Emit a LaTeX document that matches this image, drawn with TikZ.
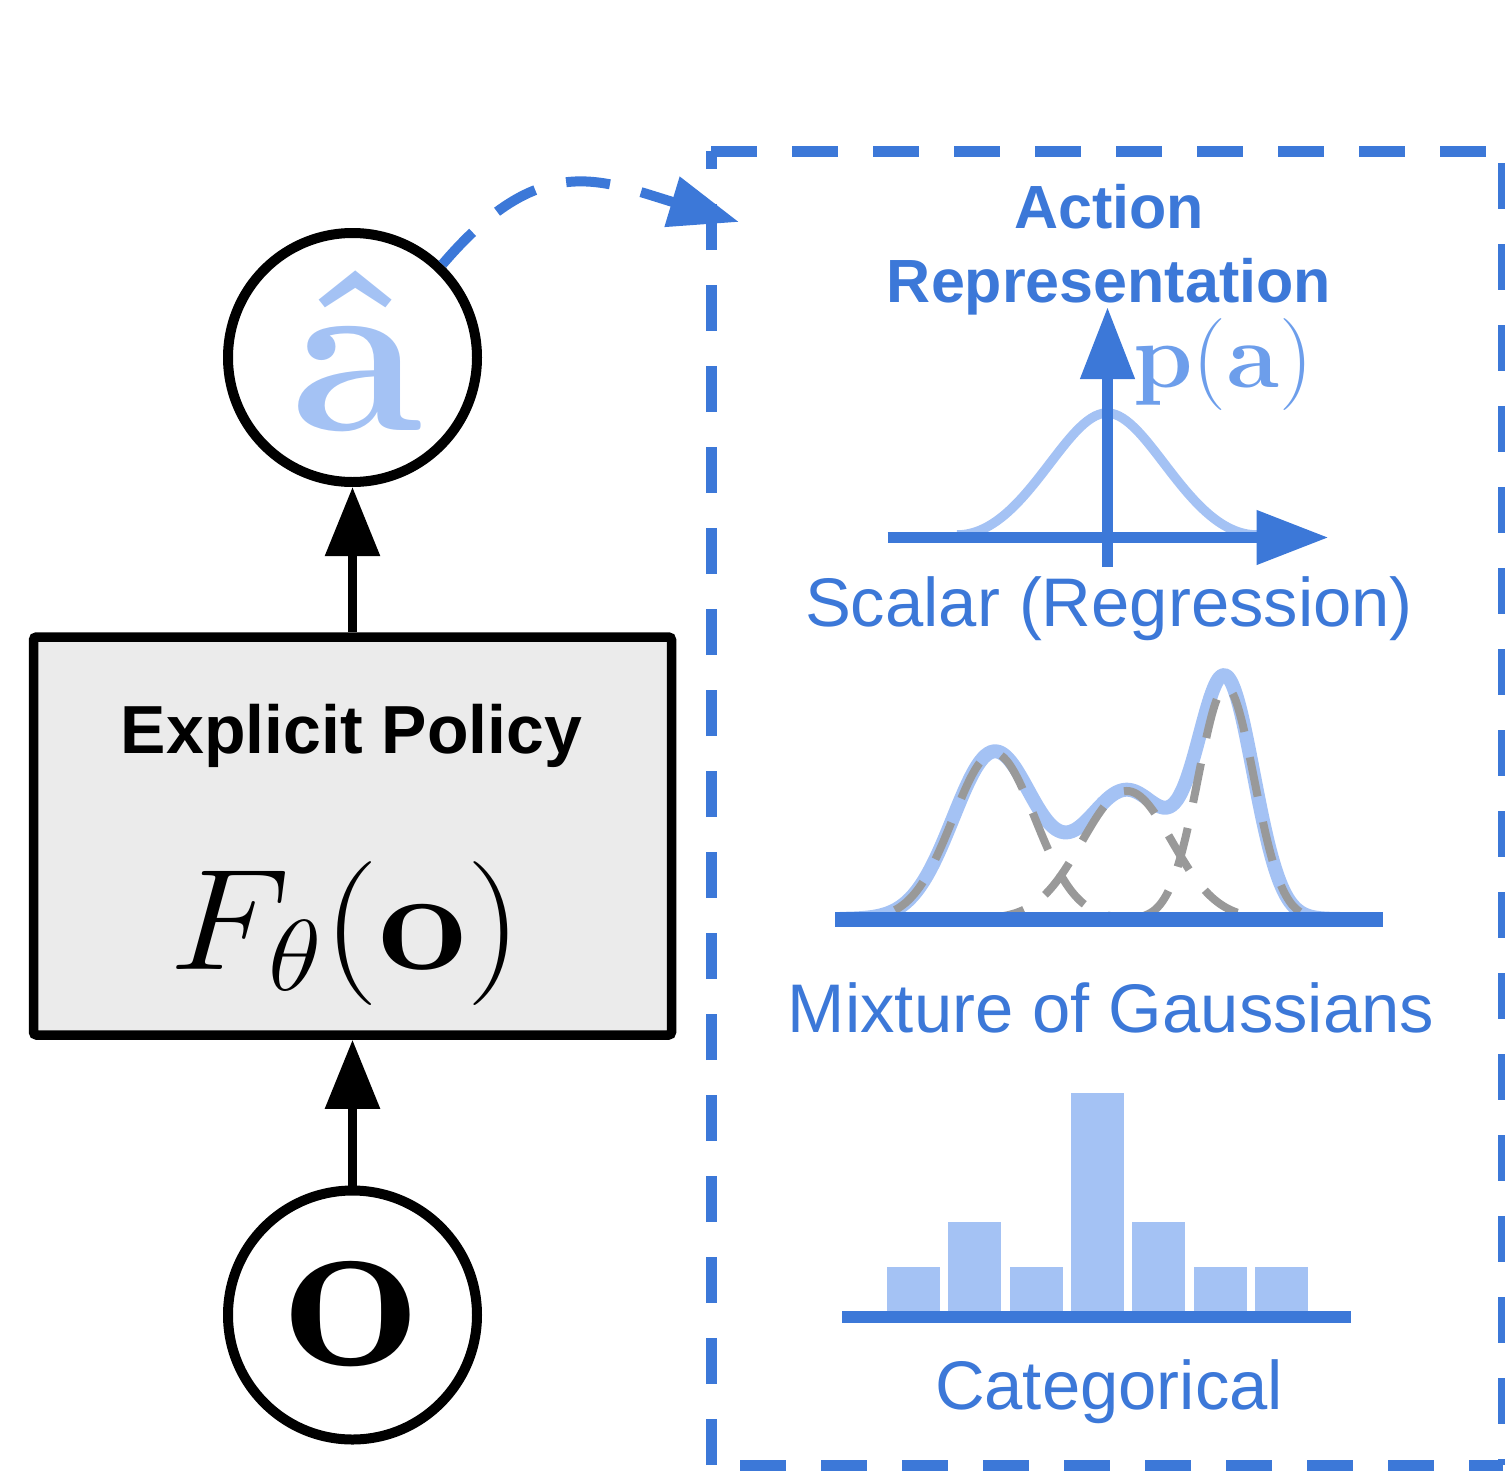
\RequirePackage{fix-cm}
\documentclass[tikz,border=0pt]{standalone}
\usepackage[no-math]{fontspec}
\newfontfamily\lsans{Liberation Sans}
\usetikzlibrary{arrows.meta}
\definecolor{gblue}{HTML}{3C78D8}
\definecolor{lblue}{HTML}{A4C2F4}
\definecolor{mblue}{HTML}{6D9EEB}
\definecolor{boxgray}{HTML}{EBEBEB}
\definecolor{dgray}{HTML}{999999}
\begin{document}
\begin{tikzpicture}[x=0.5pt,y=-0.5pt,
  circ/.style={circle, draw=black, line width=5pt, minimum size=124.5pt, inner sep=0pt},
  policy/.style={rectangle, draw=black, line width=4.75pt, fill=boxgray, minimum width=319pt, minimum height=199pt, rounded corners=1.5pt, inner sep=0pt},
  blk/.style={line width=4.5pt, -{Triangle[length=34.5pt,width=26.5pt]}},
  bluearr/.style={gblue, line width=5.5pt, -{Triangle[length=36pt,width=26pt]}},
  lbl/.style={inner sep=0pt, anchor=base},
  edgedash/.style={gblue, line width=5.5pt, dash pattern=on 23pt off 17.5pt},
  comp/.style={dgray, line width=4pt, dash pattern=on 20pt off 13pt},
  bar/.style={fill=lblue},
]
\useasboundingbox (0,0) rectangle (1505,1472);

% left column
\node[circ] (ahat) at (352.5,357.5) {};
\node[lbl, text=lblue, font=\fontsize{115}{120}\selectfont] (ahattxt) at (356,430) {\scalebox{1.04}[1]{$\mathbf{\hat{a}}$}};
\node[policy] (pol) at (352.5,836) {};
\node[lbl, font=\lsans\bfseries\fontsize{34}{40}\selectfont] (poltitle) at (351.5,753) {Explicit Policy};
\node[lbl, font=\fontsize{72}{80}\selectfont] (polf) at (346,969) {\scalebox{1.09}[1]{$F_\theta(\mathbf{o})$}};
\node[circ] (obs) at (352.5,1315) {};
\node[lbl, font=\fontsize{115}{120}\selectfont] (obstxt) at (351,1365) {\scalebox{1.03}[1]{$\mathbf{o}$}};
\draw[blk] (pol.north) -- (ahat.south);
\draw[blk] (obs.north) -- (pol.south);

% dashed connector to representation box
\coordinate (arrtip) at (739,222);
\draw[gblue, line width=5pt, dash pattern=on 22pt off 16pt, -{Triangle[length=35pt,width=25pt]}]
  (ahat.46) .. controls (540,150) and (600,180) .. (arrtip);

% dashed representation box
\draw[edgedash] (711,151) -- (1503,151);
\draw[edgedash] (1503,163) -- (1503,1465);
\draw[edgedash] (711,1465) -- (711,151);
\draw[edgedash] (740,1465) -- (1503,1465);

% title
\node[lbl, text=gblue, font=\lsans\bfseries\fontsize{30.5}{36}\selectfont] (act) at (1109,228) {Action};
\node[lbl, text=gblue, font=\lsans\bfseries\fontsize{30.5}{36}\selectfont] (rep) at (1109,302) {Representation};

% scalar
\draw[lblue, line width=4.75pt] (957,535) .. controls (1025,535) and (1065,413) .. (1107,413)
  .. controls (1149,413) and (1189,535) .. (1257,535);
\coordinate (sx0) at (887.5,537.5);
\coordinate (sx1) at (1328.5,537.5);
\coordinate (sy0) at (1107.5,567);
\coordinate (sy1) at (1107.5,307);
\draw[bluearr] (sx0) -- (sx1);
\draw[bluearr] (sy0) -- (sy1);
\node[lbl, text=mblue, font=\fontsize{46}{50}\selectfont] (pa) at (1223,387) {\scalebox{1.04}[1]{$\mathbf{p}(\mathbf{a})$}};
\node[lbl, text=gblue, font=\lsans\fontsize{34.4}{40}\selectfont] (scal) at (1109,626) {Scalar (Regression)};

% mixture of gaussians
\draw[lblue, line width=7pt, line join=round] plot[domain=840:1340, samples=200, smooth]
  (\x, {919 - 166*exp(-0.5*((\x-994)/41)*((\x-994)/41)) - 128*exp(-0.5*((\x-1127)/45)*((\x-1127)/45)) - 232*exp(-0.5*((\x-1226)/28)*((\x-1226)/28))});
\draw[comp] plot[domain=895:1110, samples=80, smooth]
  (\x, {919 - 166*exp(-0.5*((\x-994)/41)*((\x-994)/41))});
\draw[comp] plot[domain=985:1265, samples=100, smooth]
  (\x, {919 - 128*exp(-0.5*((\x-1127)/45)*((\x-1127)/45))});
\draw[comp] plot[domain=1140:1300, samples=80, smooth]
  (\x, {919 - 232*exp(-0.5*((\x-1226)/28)*((\x-1226)/28))});
\draw[gblue, line width=7.5pt] (835,919) -- (1383,919);
\node[lbl, text=gblue, font=\lsans\fontsize{34.4}{40}\selectfont] (mix) at (1111,1032) {Mixture of Gaussians};

% categorical
\fill[bar] (887,1311) rectangle (940,1267);
\fill[bar] (948,1311) rectangle (1001,1222);
\fill[bar] (1009.5,1311) rectangle (1062.5,1267);
\fill[bar] (1071,1311) rectangle (1124,1093);
\fill[bar] (1132,1311) rectangle (1185,1222);
\fill[bar] (1193.5,1311) rectangle (1246.5,1267);
\fill[bar] (1255,1311) rectangle (1308,1267);
\draw[gblue, line width=6pt] (842,1316.5) -- (1351,1316.5);
\node[lbl, text=gblue, font=\lsans\fontsize{34.4}{40}\selectfont] (cat) at (1109,1409) {Categorical};
\end{tikzpicture}
\end{document}
